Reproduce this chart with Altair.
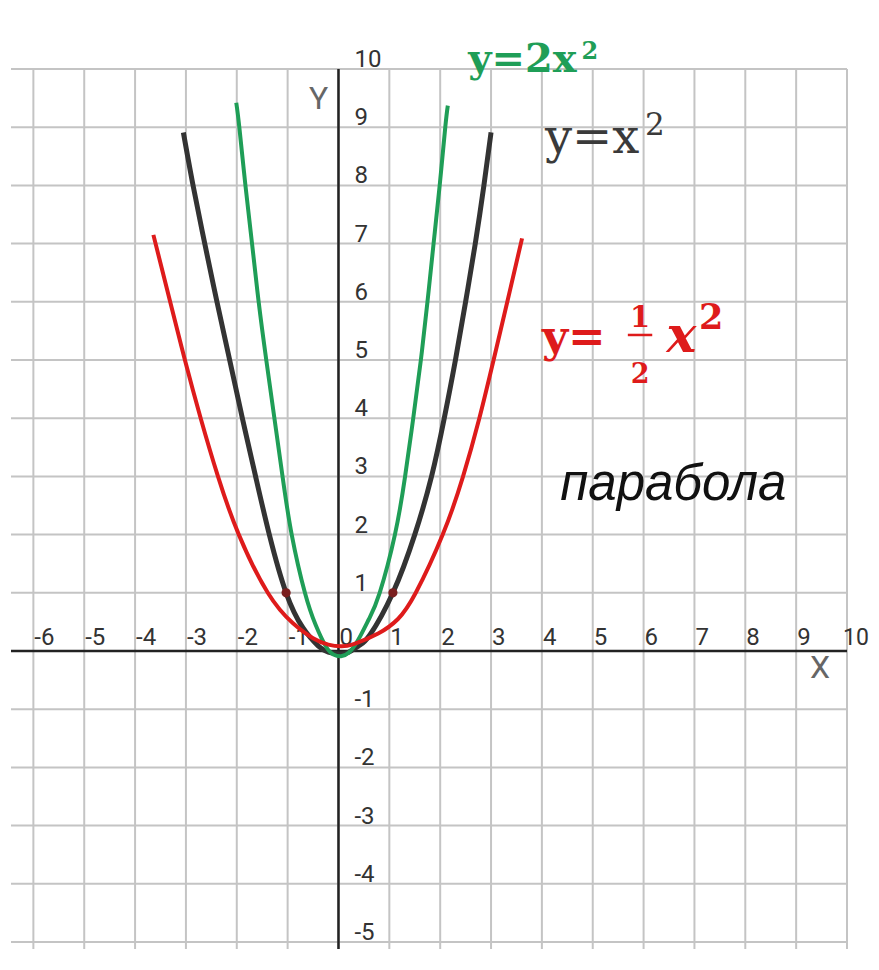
import altair as alt
import pandas as pd

XMIN, XMAX = -6.44, 10
YMIN, YMAX = -5.12, 10

# curve y = 1/2 x^2 (red)
red_x = [-3.64, -3.31, -3.02, -2.71, -2.37, -1.96, -1.39, -0.90, -0.50, -0.20, 0.05, 0.30, 0.78, 1.17, 1.52, 2.05, 2.45, 2.77, 3.05, 3.32, 3.61]
red_y = [7.15, 6.0, 5.0, 4.0, 3.0, 2.0, 1.0, 0.48, 0.22, 0.11, 0.08, 0.12, 0.30, 0.55, 1.0, 2.0, 3.0, 4.0, 5.0, 6.0, 7.09]
# curve y = x^2 (black)
blk_x = [-3.05, -2.86, -2.63, -2.39, -2.14, -1.89, -1.63, -1.36, -1.03, -0.70, -0.40, -0.20, 0.00, 0.20, 0.40, 0.62, 1.07, 1.50, 1.83, 2.08, 2.30, 2.50, 2.69, 2.86, 3.00]
blk_y = [8.91, 8.0, 7.0, 6.0, 5.0, 4.0, 3.0, 2.0, 1.0, 0.40, 0.09, -0.02, -0.05, -0.02, 0.09, 0.28, 1.0, 2.0, 3.0, 4.0, 5.0, 6.0, 7.0, 8.0, 8.91]
# curve y = 2x^2 (green)
grn_x = [-2.01, -1.95, -1.83, -1.70, -1.57, -1.42, -1.26, -1.10, -0.92, -0.66, -0.45, -0.25, -0.10, 0.05, 0.20, 0.38, 0.60, 0.81, 1.11, 1.31, 1.47, 1.62, 1.75, 1.87, 1.99, 2.10, 2.15]
grn_y = [9.42, 9.0, 8.0, 7.0, 6.0, 5.0, 4.0, 3.0, 2.0, 1.0, 0.45, 0.08, -0.06, -0.09, -0.03, 0.18, 0.55, 1.0, 2.0, 3.0, 4.0, 5.0, 6.0, 7.0, 8.0, 9.0, 9.37]
# marked points on y = x^2
dot_x = [-1.03, 1.07]
dot_y = [1.0, 1.0]

grid_x = list(range(-6, 11))
grid_y = list(range(-5, 11))
xtick_vals = list(range(-6, 10))
xtick_text = [str(v) for v in xtick_vals]
xtick_last = [10]
ytick_vals = [10, 9, 8, 7, 6, 5, 4, 3, 2, 1, -1, -2, -3, -4, -5]
ytick_text = [str(v) for v in ytick_vals]

xs = alt.Scale(domain=[XMIN, XMAX], nice=False, zero=False)
ys = alt.Scale(domain=[YMIN, YMAX], nice=False, zero=False)


def X(f="x"):
    return alt.X(f"{f}:Q", scale=xs, axis=None)


def Y(f="y"):
    return alt.Y(f"{f}:Q", scale=ys, axis=None)


GRID = "#c4c4c4"

vgrid = alt.Chart(pd.DataFrame({"x": grid_x})).mark_rule(color=GRID, strokeWidth=2).encode(x=X())
hgrid = alt.Chart(pd.DataFrame({"y": grid_y})).mark_rule(color=GRID, strokeWidth=2).encode(y=Y())

xaxis = alt.Chart(pd.DataFrame({"x": [XMIN], "x2": [XMAX], "y": [0]})).mark_rule(
    color="#222222", strokeWidth=2.5).encode(x=X(), x2="x2:Q", y=Y())
yaxis = alt.Chart(pd.DataFrame({"x": [0], "y": [YMIN], "y2": [YMAX]})).mark_rule(
    color="#222222", strokeWidth=2.5).encode(x=X(), y=Y(), y2="y2:Q")

TICKFONT = dict(font="Roboto", color="#333333", baseline="alphabetic", align="left")
xlabels = alt.Chart(pd.DataFrame({"x": xtick_vals, "y": [0] * len(xtick_vals), "t": xtick_text})).mark_text(
    dx=1, dy=-6, fontSize=24, **TICKFONT
).encode(x=X(), y=Y(), text="t:N")
xlabel_last = alt.Chart(pd.DataFrame({"x": xtick_last, "y": [0], "t": [str(v) for v in xtick_last]})).mark_text(
    dx=-4, dy=-6, fontSize=23, **TICKFONT
).encode(x=X(), y=Y(), text="t:N")
ylabels = alt.Chart(pd.DataFrame({"x": [0] * len(ytick_vals), "y": ytick_vals, "t": ytick_text})).mark_text(
    dx=16, dy=-2, fontSize=24, **TICKFONT
).encode(x=X(), y=Y(), text="t:N")

ytitle = alt.Chart(pd.DataFrame({"x": [-0.20], "y": [9.32], "t": ["Y"]})).mark_text(
    align="right", baseline="alphabetic", font="Roboto", fontSize=32, color="#666666"
).encode(x=X(), y=Y(), text="t:N")
xtitle = alt.Chart(pd.DataFrame({"x": [9.47], "y": [-0.46], "t": ["X"]})).mark_text(
    align="center", baseline="alphabetic", font="Roboto", fontSize=32, color="#666666"
).encode(x=X(), y=Y(), text="t:N")

RED = "#de1b1b"
BLK = "#333333"
GRN = "#1f9e57"
CURVE = "natural"

blk = alt.Chart(pd.DataFrame({"x": blk_x, "y": blk_y})).mark_line(
    color=BLK, strokeWidth=5, interpolate=CURVE).encode(x=X(), y=Y(), order="x:Q")
grn = alt.Chart(pd.DataFrame({"x": grn_x, "y": grn_y})).mark_line(
    color=GRN, strokeWidth=4, interpolate=CURVE).encode(x=X(), y=Y(), order="x:Q")
red = alt.Chart(pd.DataFrame({"x": red_x, "y": red_y})).mark_line(
    color=RED, strokeWidth=4, interpolate=CURVE).encode(x=X(), y=Y(), order="x:Q")
dots = alt.Chart(pd.DataFrame({"x": dot_x, "y": dot_y})).mark_point(
    filled=True, color="#7a1f1f", size=85, opacity=1).encode(x=X(), y=Y())


def label(x, y, t, align="left", **kw):
    return alt.Chart(pd.DataFrame({"x": [x], "y": [y], "t": [t]})).mark_text(
        align=align, baseline="alphabetic", **kw).encode(x=X(), y=Y(), text="t:N")


SERIF = "DejaVu Serif"
ann = [
    label(2.55, 9.95, "y=2x", font=SERIF, fontWeight="bold", fontSize=40, color=GRN),
    label(4.78, 10.17, "2", font=SERIF, fontWeight="bold", fontSize=24, color=GRN),
    label(4.06, 8.56, "y=x", font=SERIF, fontSize=48, color="#3a3a3a"),
    label(6.03, 8.87, "2", font=SERIF, fontSize=31, color="#3a3a3a"),
    label(4.00, 5.14, "y=", font=SERIF, fontWeight="bold", fontSize=45, color=RED),
    label(5.93, 5.57, "1", align="center", font=SERIF, fontWeight="bold", fontSize=29, color=RED),
    label(5.93, 4.60, "2", align="center", font=SERIF, fontWeight="bold", fontSize=27, color=RED),
    alt.Chart(pd.DataFrame({"x": [5.69], "x2": [6.17], "y": [5.43]})).mark_rule(
        color=RED, strokeWidth=2.5).encode(x=X(), x2="x2:Q", y=Y()),
    label(6.45, 5.14, "x", font=SERIF, fontWeight="bold", fontStyle="italic", fontSize=50, color=RED),
    label(7.09, 5.53, "2", font=SERIF, fontWeight="bold", fontSize=35, color=RED),
    label(4.36, 2.59, "парабола", font="Liberation Sans", fontStyle="italic", fontSize=51, color="#111111"),
]

chart = alt.layer(
    vgrid, hgrid, xaxis, yaxis, xlabels, xlabel_last, ylabels, ytitle, xtitle, blk, grn, red, dots, *ann
).properties(
    width=836, height=880,
    padding={"left": 3, "top": 61, "right": 24, "bottom": 0},
    autosize=alt.AutoSizeParams(type="none"),
    background="#ffffff",
).configure_view(stroke=None)

chart.save("out.html", embed_options={"renderer": "svg", "actions": False})
